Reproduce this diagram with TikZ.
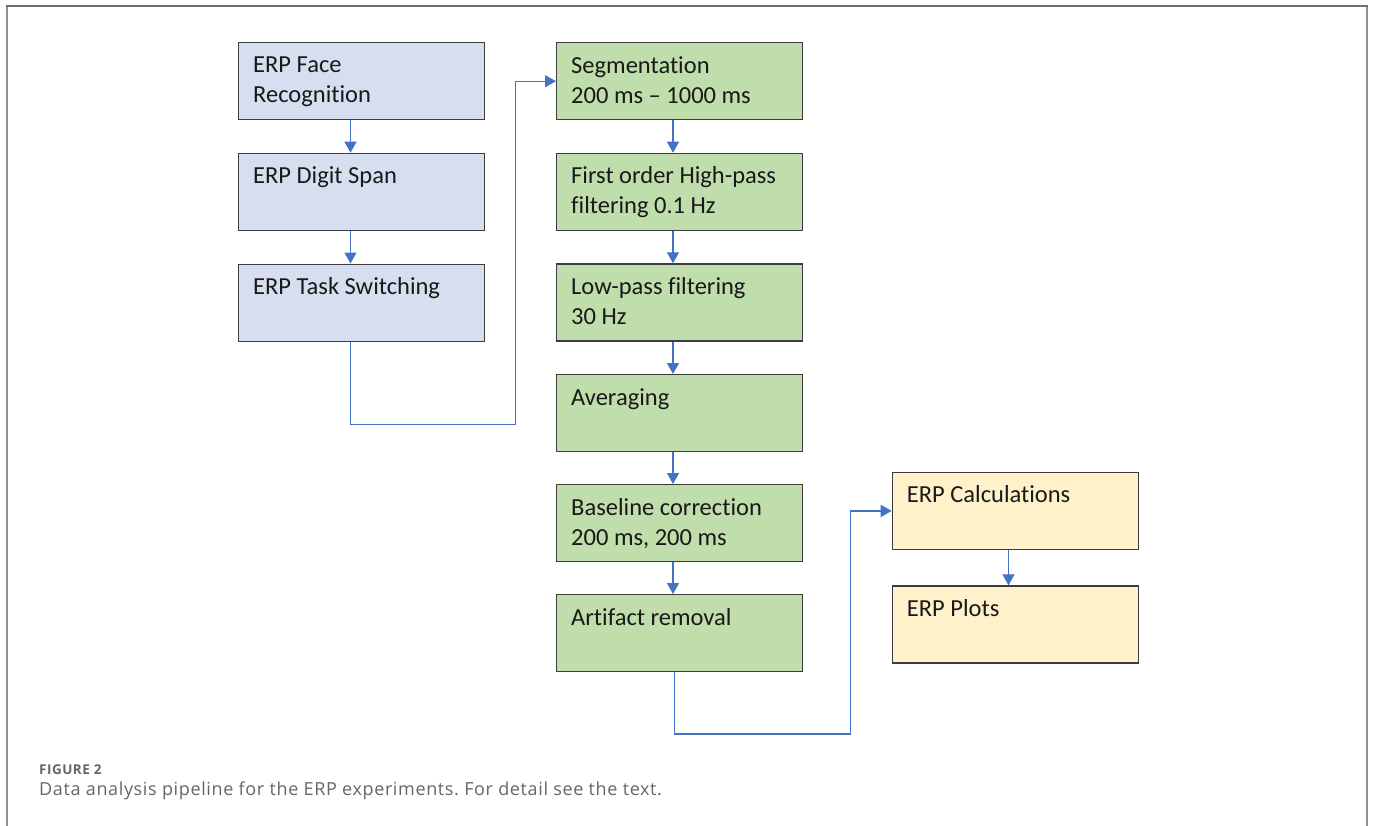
\documentclass[tikz,border=0pt]{standalone}
\usepackage{fontspec}
\setmainfont{Carlito}[Ligatures=NoCommon]
\newfontfamily\capfont{Open Sans}[LetterSpace=3.5]
\usetikzlibrary{arrows.meta}
\definecolor{bluefill}{HTML}{D6DEF0}
\definecolor{greenfill}{HTML}{C0DDAC}
\definecolor{yellowfill}{HTML}{FFF1C9}
\definecolor{boxline}{HTML}{3C3C3C}
\definecolor{arrblue}{HTML}{4472C4}
\definecolor{frametop}{HTML}{6E6E6E}
\definecolor{frameside}{HTML}{8E8E8E}
\definecolor{captext}{HTML}{666666}
\tikzset{
  stagebox/.style={draw=boxline, line width=1.4pt, minimum width=246pt, minimum height=77pt, anchor=north west, inner sep=0pt},
  bluebox/.style={stagebox, fill=bluefill},
  greenbox/.style={stagebox, fill=greenfill},
  yellowbox/.style={stagebox, fill=yellowfill},
  boxtext/.style={anchor=base west, inner sep=0pt, align=left, text=black!90, font={\fontsize{24.5}{30}\selectfont}, xshift=15pt, yshift=-31pt},
  twoline/.style={yshift=-30pt},
  arr/.style={draw=arrblue, line width=1.2pt, -{Triangle[width=12pt,length=11pt]}, arrblue},
}
\frenchspacing
\begin{document}
\begin{tikzpicture}[x=1pt,y=-1pt]
\useasboundingbox (0,0) rectangle (1373,825);
\fill[white] (0,0) rectangle (1373,825);
% frame
\draw[frameside, line width=2pt] (6.5,826) -- (6.5,5.5);
\draw[frameside, line width=2pt] (1366.5,5.5) -- (1366.5,826);
\draw[frametop, line width=2pt] (5.5,5.5) -- (1367.5,5.5);

% blue column
\node[bluebox] (b1) at (238,41.7) {};
\node[bluebox] (b2) at (238,152.7) {};
\node[bluebox] (b3) at (238,263.5) {};
\node[boxtext, twoline] (tb1) at (b1.north west) {ERP Face\\Recognition};
\node[boxtext] (tb2) at (b2.north west) {ERP Digit Span};
\node[boxtext] (tb3) at (b3.north west) {ERP Task Switching};

% green column
\node[greenbox] (g1) at (556,42) {};
\node[greenbox] (g2) at (556,152.7) {};
\node[greenbox] (g3) at (556,263.3) {};
\node[greenbox] (g4) at (556,374) {};
\node[greenbox] (g5) at (556,484) {};
\node[greenbox] (g6) at (556,594) {};
\node[boxtext, twoline] (tg1) at (g1.north west) {Segmentation\\200 ms -- 1000 ms};
\node[boxtext, twoline] (tg2) at (g2.north west) {First order High-pass\\filtering 0.1 Hz};
\node[boxtext, twoline] (tg3) at (g3.north west) {Low-pass filtering\\30 Hz};
\node[boxtext] (tg4) at (g4.north west) {Averaging};
\node[boxtext, twoline] (tg5) at (g5.north west) {Baseline correction\\200 ms, 200 ms};
\node[boxtext] (tg6) at (g6.north west) {Artifact removal};

% yellow column
\node[yellowbox] (y1) at (891.7,471.7) {};
\node[yellowbox] (y2) at (891.7,585.3) {};
\node[boxtext] (ty1) at (y1.north west) {ERP Calculations};
\node[boxtext] (ty2) at (y2.north west) {ERP Plots};

% arrow axes and bends
\coordinate (ax) at (350.5,0);
\coordinate (gx) at (673,0);
\coordinate (gx2) at (674.3,0);
\coordinate (yx) at (1008.5,0);
\coordinate (j1) at (515.7,424.5);
\coordinate (j2) at (850.7,734);

\draw[arr] (b1.south -| ax) -- (b2.north -| ax);
\draw[arr] (b2.south -| ax) -- (b3.north -| ax);
\draw[arr] (b3.south -| ax) |- (j1) |- (g1.west);

\draw[arr] (g1.south -| gx) -- (g2.north -| gx);
\draw[arr] (g2.south -| gx) -- (g3.north -| gx);
\draw[arr] (g3.south -| gx) -- (g4.north -| gx);
\draw[arr] (g4.south -| gx) -- (g5.north -| gx);
\draw[arr] (g5.south -| gx) -- (g6.north -| gx);
\draw[arr] (g6.south -| gx2) |- (j2) |- (y1.west);

\draw[arr] (y1.south -| yx) -- (y2.north -| yx);

% caption
\node[anchor=base west, inner sep=0pt, text=captext, font={\capfont\bfseries\fontsize{13.5}{15}\selectfont}] (cap1) at (39,774.3) {FIGURE 2};
\node[anchor=base west, inner sep=0pt, text=captext, font={\capfont\fontsize{18}{20}\selectfont}] (cap2) at (39,795.7) {Data analysis pipeline for the ERP experiments. For detail see the text.};
\end{tikzpicture}
\end{document}
